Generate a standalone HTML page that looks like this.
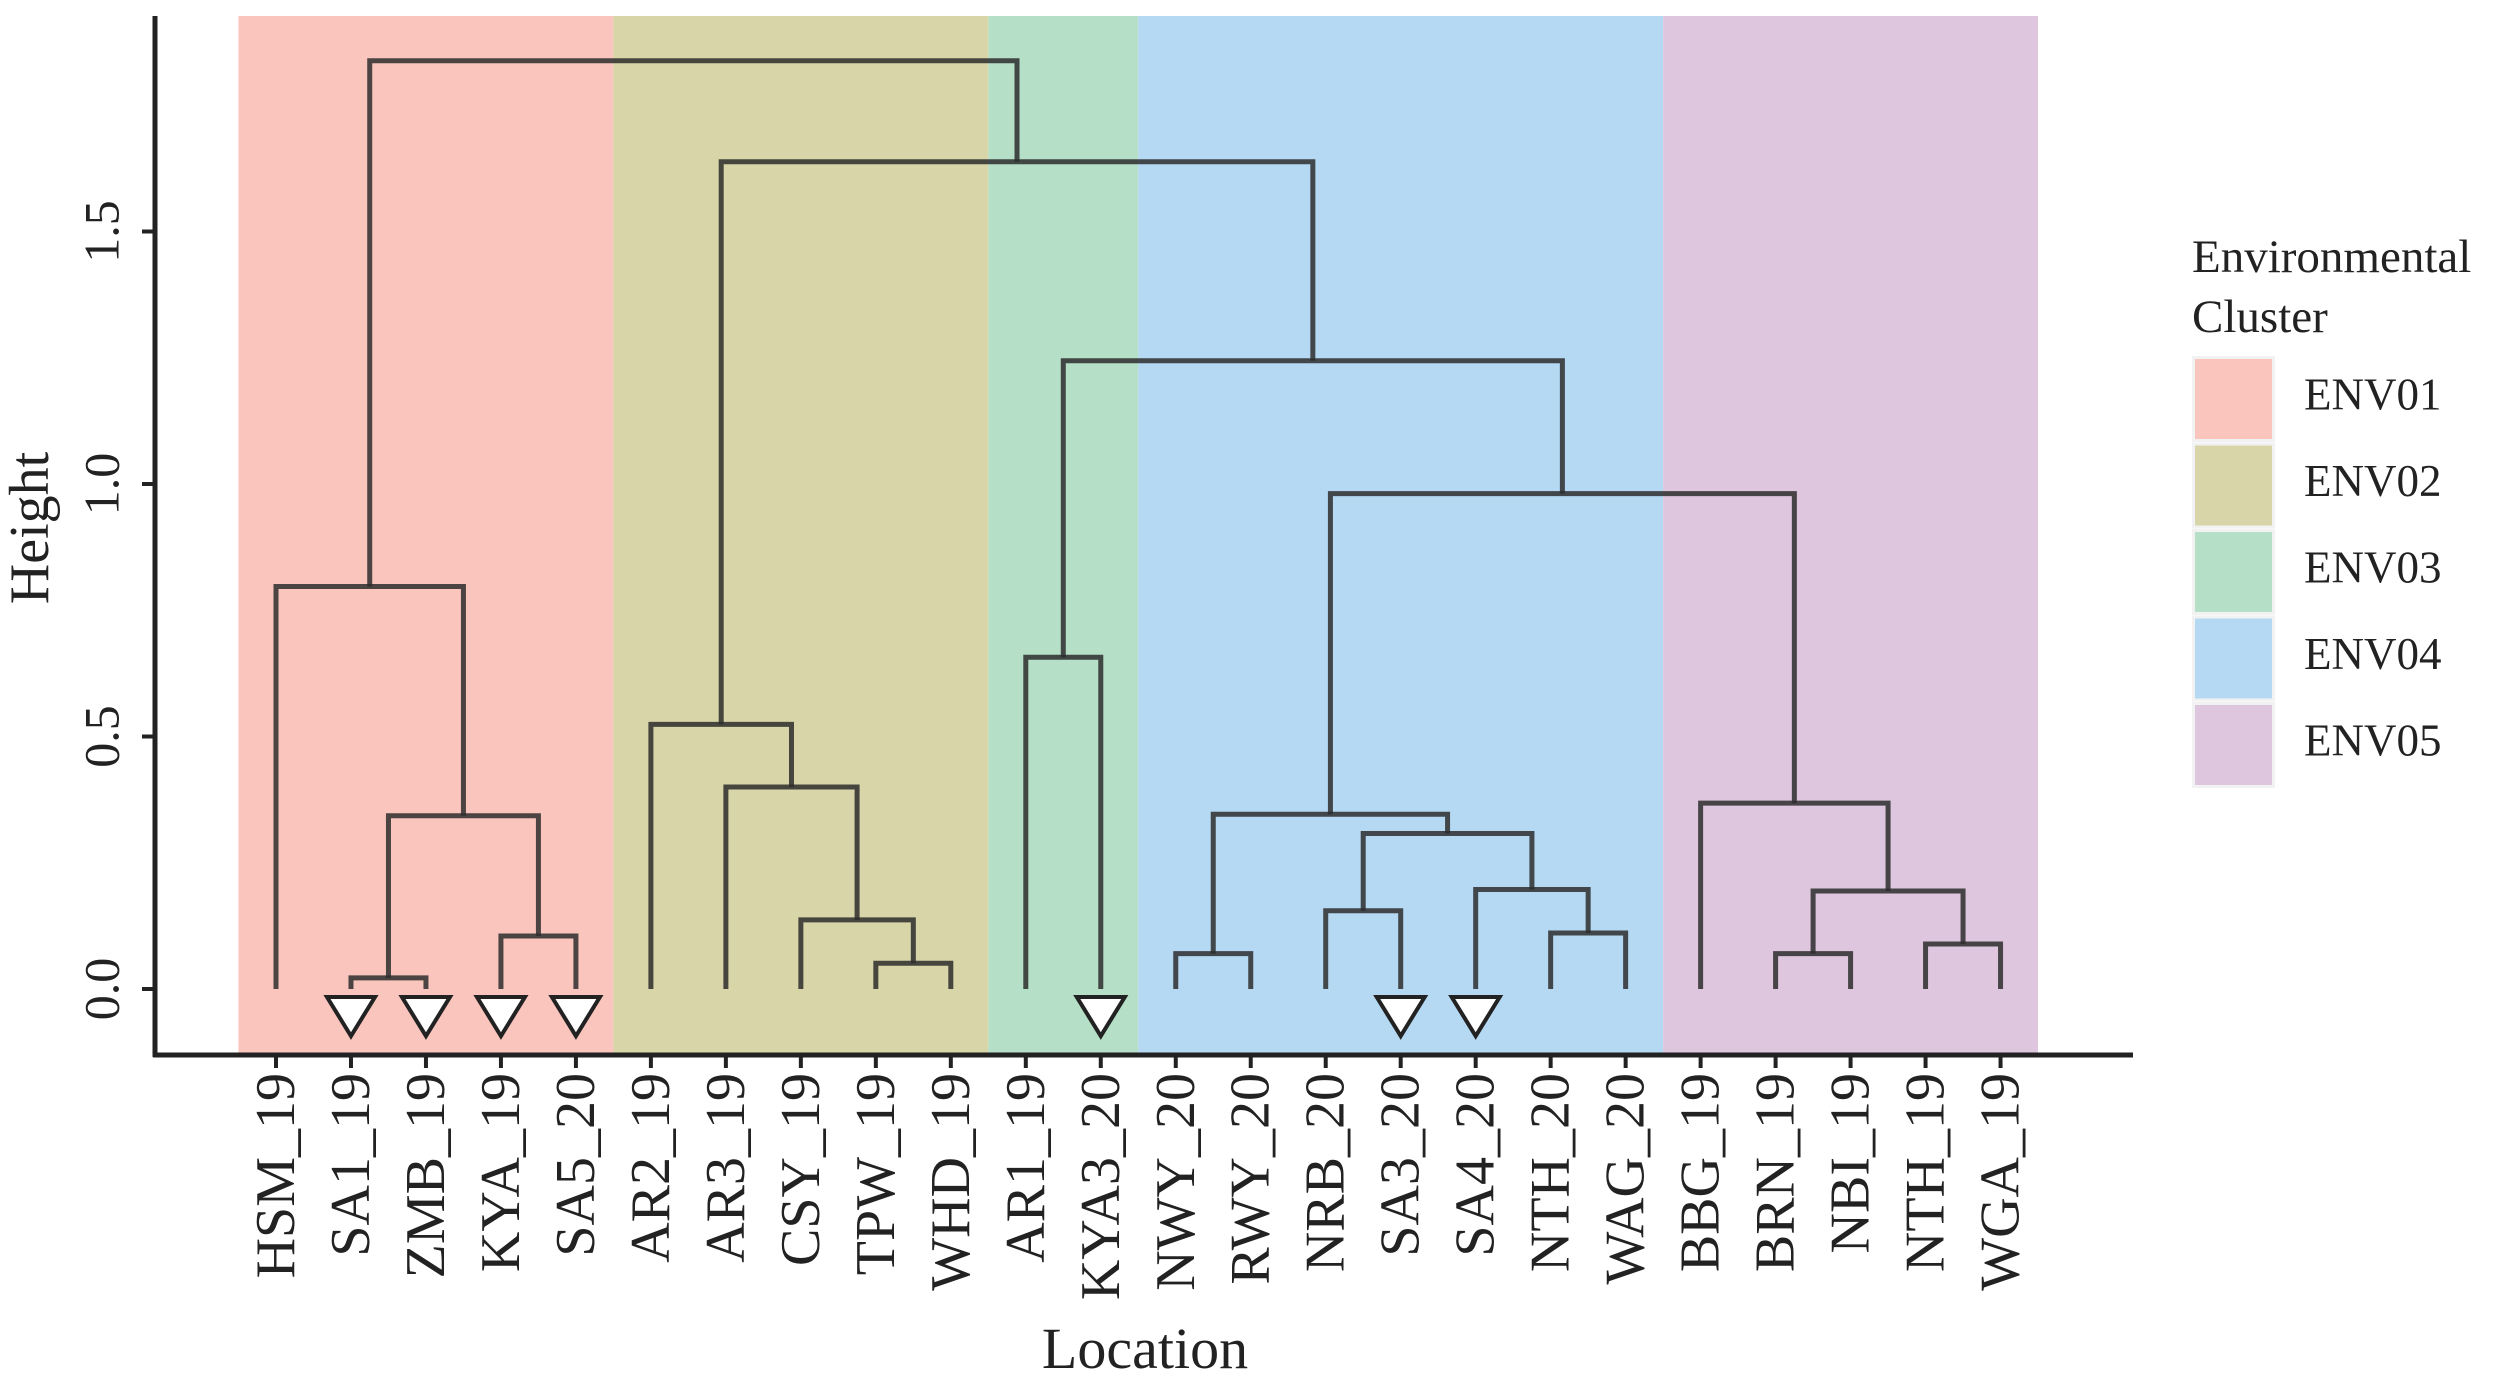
<!DOCTYPE html>
<html><head><meta charset="utf-8"><style>
body{margin:0;background:#fff}
svg{display:block;font-family:"Liberation Serif",serif}
</style></head><body>
<svg id="chart" width="2500" height="1386" viewBox="0 0 2500 1386" xmlns="http://www.w3.org/2000/svg">
<g id="bands"></g>
<g id="tree"></g>
<g id="axes"></g>
<text x="35" y="528" font-size="56" fill="#222" text-anchor="middle" transform="rotate(-90 35 528)" dominant-baseline="middle">Height</text>
<text x="1145" y="1368" font-size="58" fill="#222" text-anchor="middle">Location</text>
<g id="legend">
<text x="2192" y="272" font-size="47" fill="#222">Environmental</text>
<text x="2192" y="332" font-size="47" fill="#222">Cluster</text>
</g>
</svg>
<script>
const leaves = ["HSM_19","SA1_19","ZMB_19","KYA_19","SA5_20","AR2_19","AR3_19","CSY_19","TPW_19","WHD_19","AR1_19","KYA3_20","NWY_20","RWY_20","NRB_20","SA3_20","SA4_20","NTH_20","WAG_20","BBG_19","BRN_19","NBI_19","NTH_19","WGA_19"];
const leafCluster = [0,0,0,0,0,1,1,1,1,1,2,2,3,3,3,3,3,3,3,4,4,4,4,4];
const triangleLeaves = ["SA1_19","ZMB_19","KYA_19","SA5_20","KYA3_20","SA3_20","SA4_20"];
const clusterNames = ["ENV01","ENV02","ENV03","ENV04","ENV05"];
const clusterColors = ["#f9c5bd","#d8d5a8","#b5dfc6","#b5d9f3","#dfc6df"];
const yTicks = [0,0.5,1.0,1.5];
const yTickLabels = ["0.0","0.5","1.0","1.5"];
const merges = [
 [-2,-3,0.022],
 [-4,-5,0.105],
 [1,2,0.343],
 [-1,3,0.797],
 [-9,-10,0.051],
 [-8,5,0.137],
 [-7,6,0.40],
 [-6,7,0.524],
 [-11,-12,0.657],
 [-13,-14,0.07],
 [-15,-16,0.155],
 [-18,-19,0.111],
 [-17,12,0.197],
 [11,13,0.308],
 [10,14,0.346],
 [-21,-22,0.07],
 [-23,-24,0.089],
 [16,17,0.194],
 [-20,18,0.368],
 [15,19,0.981],
 [9,20,1.244],
 [8,21,1.638],
 [4,22,1.838]
];
const NS="http://www.w3.org/2000/svg";
const X0=276, DX=74.98, Y0=989, PPU=505;
const xs=i=>X0+i*DX, ys=v=>Y0-v*PPU;
function mk(tag,attrs,parent){const e=document.createElementNS(NS,tag);for(const k in attrs)e.setAttribute(k,attrs[k]);parent.appendChild(e);return e;}
const bands=document.getElementById('bands'),tree=document.getElementById('tree'),axes=document.getElementById('axes'),legend=document.getElementById('legend');
clusterNames.forEach((c,ci)=>{
 const idx=leafCluster.map((v,i)=>v===ci?i:-1).filter(i=>i>=0);
 const x1=xs(idx[0])-DX/2, x2=xs(idx[idx.length-1])+DX/2;
 const r=mk('rect',{x:x1,y:16,width:x2-x1,height:1055-16,fill:clusterColors[ci]},bands);
 
 
});
const pos={};
function nodeX(id){return id<0?xs(-id-1):pos[id].x;}
function nodeY(id){return id<0?ys(0):pos[id].y;}
merges.forEach((m,k)=>{
 const id=k+1,[a,b,h]=m;
 const xa=nodeX(a),xb=nodeX(b),ya=nodeY(a),yb=nodeY(b),y=ys(h);
 pos[id]={x:(xa+xb)/2,y:y};
 const p=mk('path',{d:`M${xa},${ya}V${y}H${xb}V${yb}`,fill:"none",stroke:"rgba(45,45,45,0.85)","stroke-width":5,"stroke-linejoin":"miter","stroke-linecap":"butt"},tree);
 
 
});
leaves.forEach((l,i)=>{
 if(triangleLeaves.indexOf(l)<0)return;
 const x=xs(i);
 const t=mk('polygon',{points:`${x-24},${997} ${x+24},${997} ${x},${1036}`,fill:"#fff",stroke:"#222","stroke-width":4,"stroke-linejoin":"miter"},tree);
 
 
});
const ya=mk('line',{x1:155,y1:16,x2:155,y2:1057,stroke:"#222","stroke-width":5},axes);


const xa=mk('line',{x1:153,y1:1055,x2:2133,y2:1055,stroke:"#222","stroke-width":5},axes);


yTicks.forEach((v,i)=>{
 const y=ys(v);
 const t=mk('line',{x1:142,y1:y,x2:155,y2:y,stroke:"#222","stroke-width":4},axes);
 
 
 const tx=mk('text',{x:107,y:y,"font-size":50,fill:"#222","text-anchor":"middle","dominant-baseline":"middle",transform:`rotate(-90 107 ${y})`},axes);
 tx.textContent=yTickLabels[i];
 
 
});
leaves.forEach((l,i)=>{
 const x=xs(i);
 const t=mk('line',{x1:x,y1:1055,x2:x,y2:1068,stroke:"#222","stroke-width":4},axes);
 
 
 const tx=mk('text',{x:x,y:1073,"font-size":56,fill:"#222","text-anchor":"end","dominant-baseline":"central",transform:`rotate(-90 ${x} 1073)`},axes);
 tx.textContent=l;
 
 
});
clusterNames.forEach((c,i)=>{
 const y=359+i*86.5;
 const bg=mk('rect',{x:2192,y:y-3,width:83,height:86,fill:"#f2f2f2"},legend);
 
 
 const r=mk('rect',{x:2195,y:y,width:77,height:80,fill:clusterColors[i]},legend);
 
 
 const t=mk('text',{x:2304,y:y+40,"font-size":45,fill:"#222","dominant-baseline":"middle"},legend);
 t.textContent=c;
 
 
});
</script>
</body></html>
